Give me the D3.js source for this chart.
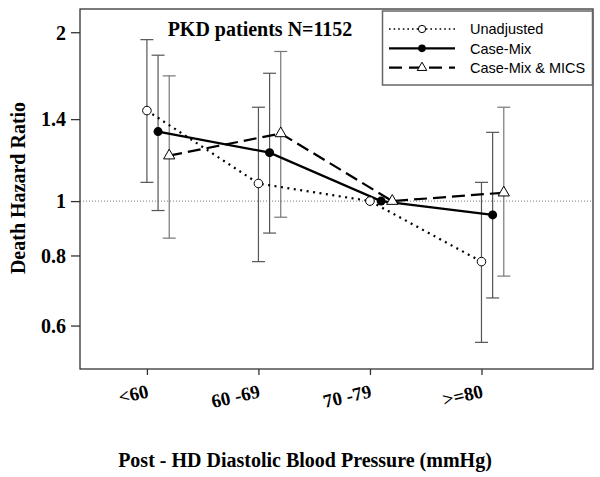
<!DOCTYPE html>
<html>
<head>
<meta charset="utf-8">
<script src="https://cdn.jsdelivr.net/npm/d3@7"></script>
<style>
html,body{margin:0;padding:0;background:#fff;}
svg{display:block;}
</style>
</head>
<body>
<svg id="chart" width="600" height="477"></svg>
<script>
const categories = ["<60", "60 -69", "70 -79", ">=80"];
const seriesNames = ["Unadjusted", "Case-Mix", "Case-Mix & MICS"];
const unadjusted = [1.45, 1.075, 1.0, 0.78];
const unadjustedLo = [1.08, 0.78, null, 0.56];
const unadjustedHi = [1.94, 1.47, null, 1.08];
const caseMix = [1.33, 1.22, 1.0, 0.945];
const caseMixLo = [0.962, 0.877, null, 0.672];
const caseMixHi = [1.82, 1.69, null, 1.326];
const caseMixMics = [1.205, 1.32, 1.0, 1.035];
const caseMixMicsLo = [0.859, 0.936, null, 0.735];
const caseMixMicsHi = [1.672, 1.848, null, 1.47];
const yTicks = [0.6, 0.8, 1, 1.4, 2];
const offsets = [0, 0.1, 0.2];
const title = "PKD patients N=1152";
const xTitle = "Post - HD Diastolic Blood Pressure (mmHg)";
const yTitle = "Death Hazard Ratio";

const svg = d3.select("#chart");
const L = 80, R = 593, T = 9, B = 369;
const x = d3.scaleLinear().domain([0.4, 5.0]).range([L, R]);
const y = d3.scaleLog().domain([0.502, 2.2]).range([B, T]);
const serif = "'Liberation Serif','Times New Roman',serif";
const sans = "'Liberation Sans',Arial,sans-serif";

// reference line
svg.append("line").attr("x1", L).attr("x2", R).attr("y1", y(1)).attr("y2", y(1))
  .attr("stroke", "#777").attr("stroke-width", 1).attr("stroke-dasharray", "1,2");

// axes
const yAxis = d3.axisLeft(y).tickValues(yTicks).tickFormat(d => String(d)).tickSize(9).tickPadding(5);
const gy = svg.append("g").attr("transform", `translate(${L},0)`).call(yAxis);
gy.select(".domain").remove();
gy.selectAll(".tick line").attr("stroke", "#333").attr("stroke-width", 1.3);
gy.selectAll(".tick text").attr("font-family", serif).attr("font-weight", "bold")
  .attr("font-size", 20).attr("fill", "#000").attr("dy", "0.34em");

const xAxis = d3.axisBottom(x).tickValues([1, 2, 3, 4]).tickFormat(d => categories[d - 1]).tickSize(6).tickPadding(4);
const gx = svg.append("g").attr("transform", `translate(0,${B})`).call(xAxis);
gx.select(".domain").remove();
gx.selectAll(".tick line").attr("stroke", "#333").attr("stroke-width", 1.3);
gx.selectAll(".tick text").attr("font-family", serif).attr("font-weight", "bold")
  .attr("font-size", 19).attr("fill", "#000")
  .attr("text-anchor", "end").attr("dy", 0).attr("y", 0)
  .attr("transform", "translate(2,28) rotate(-13)");

// frame
svg.append("rect").attr("x", L).attr("y", T).attr("width", R - L).attr("height", B - T)
  .attr("fill", "none").attr("stroke", "#333").attr("stroke-width", 1.3);

const series = [
  {name: seriesNames[0], v: unadjusted, lo: unadjustedLo, hi: unadjustedHi, dash: "2,4.5", width: 2.2, marker: "open", ebColor: "#555"},
  {name: seriesNames[1], v: caseMix, lo: caseMixLo, hi: caseMixHi, dash: null, width: 2.2, marker: "filled", ebColor: "#555"},
  {name: seriesNames[2], v: caseMixMics, lo: caseMixMicsLo, hi: caseMixMicsHi, dash: "13,6", width: 2.2, marker: "tri", ebColor: "#777"}
];

// error bars
series.forEach((s, si) => {
  const g = svg.append("g");
  s.v.forEach((v, i) => {
    if (s.lo[i] == null) return;
    const cx = x(i + 1 + offsets[si]);
    g.append("line").attr("x1", cx).attr("x2", cx).attr("y1", y(s.lo[i])).attr("y2", y(s.hi[i]))
      .attr("stroke", s.ebColor).attr("stroke-width", 1.2);
    [s.lo[i], s.hi[i]].forEach(e => {
      g.append("line").attr("x1", cx - 6.5).attr("x2", cx + 6.5).attr("y1", y(e)).attr("y2", y(e))
        .attr("stroke", s.ebColor).attr("stroke-width", 1.2);
    });
  });
});

function drawMarker(g, type, cx, cy, scale) {
  if (type === "open") {
    g.append("circle").attr("cx", cx).attr("cy", cy).attr("r", 4.3 * scale)
      .attr("fill", "#fff").attr("stroke", "#000").attr("stroke-width", 1);
  } else if (type === "filled") {
    g.append("circle").attr("cx", cx).attr("cy", cy).attr("r", 4.5 * scale).attr("fill", "#000");
  } else {
    const sym = d3.symbol().type(d3.symbolTriangle).size(55 * scale * scale);
    g.append("path").attr("d", sym()).attr("transform", `translate(${cx},${cy})`)
      .attr("fill", "#fff").attr("stroke", "#000").attr("stroke-width", 1);
  }
}

// lines and markers
series.forEach((s, si) => {
  const line = d3.line().x((d, i) => x(i + 1 + offsets[si])).y(d => y(d));
  svg.append("path").datum(s.v).attr("d", line).attr("fill", "none")
    .attr("stroke", "#000").attr("stroke-width", s.width)
    .attr("stroke-dasharray", s.dash);
});
series.forEach((s, si) => {
  const g = svg.append("g");
  s.v.forEach((v, i) => drawMarker(g, s.marker, x(i + 1 + offsets[si]), y(v), 1));
});

// title
svg.append("text").attr("x", 260).attr("y", 36).attr("text-anchor", "middle")
  .attr("font-family", serif).attr("font-weight", "bold").attr("font-size", 20).text(title);

// legend
const lg = svg.append("g");
lg.append("rect").attr("x", 382.5).attr("y", 11).attr("width", 210).attr("height", 74)
  .attr("fill", "#fff").attr("stroke", "#666").attr("stroke-width", 1.5);
const legendY = [29, 48.3, 67.7];
series.forEach((s, si) => {
  const ly = legendY[si];
  lg.append("line").attr("x1", 389).attr("x2", 455).attr("y1", ly).attr("y2", ly)
    .attr("stroke", "#000").attr("stroke-width", si === 0 ? 1.6 : 2.2)
    .attr("stroke-dasharray", si === 0 ? "1.6,3" : (si === 2 ? "13,7" : null));
  drawMarker(lg, s.marker, 422, ly, 0.85);
  lg.append("text").attr("x", 470).attr("y", ly).attr("dy", "0.36em")
    .attr("font-family", sans).attr("font-size", 14.5).attr("fill", "#000").text(s.name);
});

// axis titles
svg.append("text").attr("x", 305).attr("y", 467).attr("text-anchor", "middle")
  .attr("font-family", serif).attr("font-weight", "bold").attr("font-size", 20).text(xTitle);
svg.append("text").attr("transform", `translate(25,188) rotate(-90)`).attr("text-anchor", "middle")
  .attr("font-family", serif).attr("font-weight", "bold").attr("font-size", 20).text(yTitle);
</script>
</body>
</html>
